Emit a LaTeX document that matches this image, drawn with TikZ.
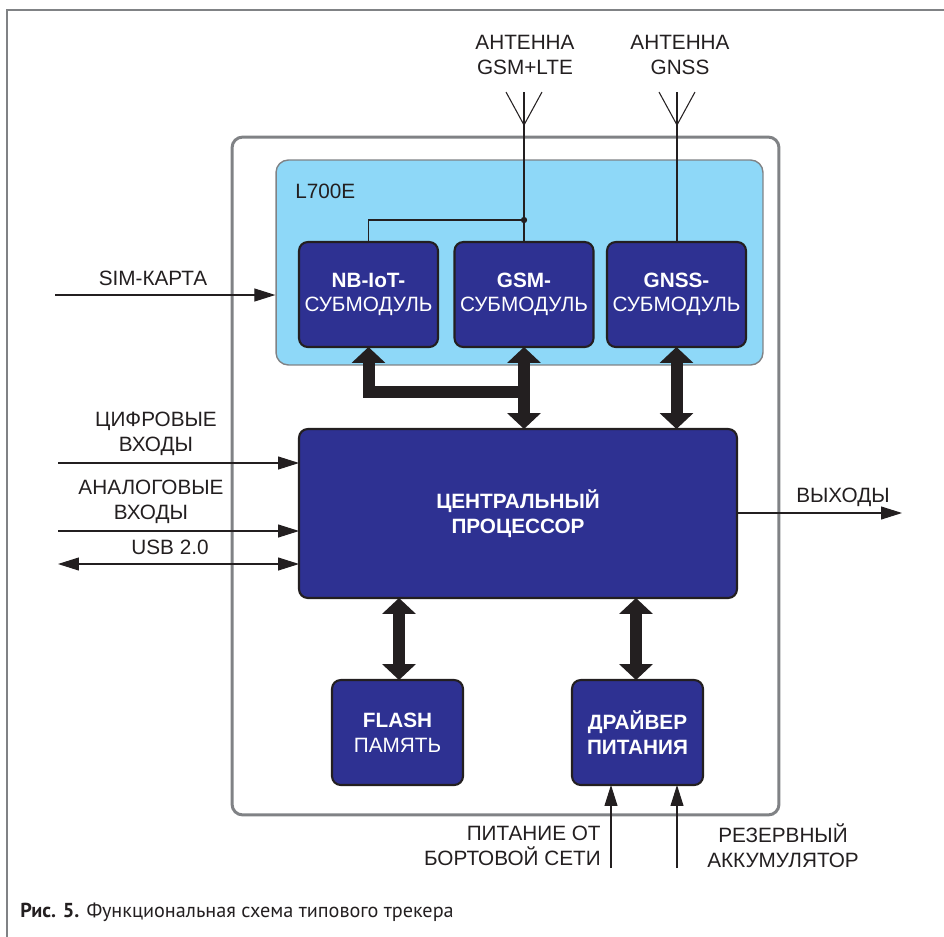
\documentclass[tikz,border=0pt]{standalone}
\usepackage{fontspec}
\setmainfont{Liberation Sans}
\newfontfamily\capfont{PT Sans}
\usetikzlibrary{arrows.meta, positioning}
\definecolor{darkblue}{HTML}{2E3192}
\definecolor{lightblue}{HTML}{8ED8F8}
\definecolor{framegray}{HTML}{808285}
\definecolor{ink}{HTML}{231F20}

\begin{document}
\begin{tikzpicture}[x=0.02cm, y=-0.02cm,
    font=\fontsize{11.8}{14}\selectfont,
    block/.style={draw=ink, line width=1.2pt, fill=darkblue, rounded corners=5pt,
      text=white, align=center, inner sep=0pt, outer sep=0pt},
    txt/.style={align=center, text=ink, inner sep=0pt},
    wire/.style={draw=ink, line width=0.6pt},
    sig/.style={wire, -{Triangle[length=0.42cm, width=0.26cm]}},
    bisig/.style={wire, {Triangle[length=0.42cm, width=0.26cm]}-{Triangle[length=0.42cm, width=0.26cm]}},
    bus/.style={draw=ink, line width=0.24cm, line join=miter,
      {Triangle[length=0.32cm, width=0.66cm]}-{Triangle[length=0.32cm, width=0.66cm]}},
    busstart/.style={draw=ink, line width=0.24cm, line join=miter,
      {Triangle[length=0.32cm, width=0.66cm]}-}]
    \useasboundingbox (0,0) rectangle (944,937);
    \draw [framegray, line width=1.2pt] (944,10) -- (7,10) -- (7,937);

    % board and module
    \node (board) [draw=framegray, line width=1.7pt, rounded corners=6pt, inner sep=0pt,
      minimum width=10.94cm, minimum height=13.56cm] at (505.5,476) {};
    \node (l700e) [draw=framegray, line width=0.8pt, fill=lightblue, rounded corners=7pt, inner sep=0pt,
      minimum width=9.74cm, minimum height=4.1cm] at (519.5,262.5) {};
    \node (l700elbl) [txt, anchor=west] at (295,191) {L700E};

    \node (nb) [block, minimum width=2.78cm, minimum height=2.1cm] at (368.5,294.5)
      {\textbf{NB-IoT-}\\СУБМОДУЛЬ};
    \node (gsm) [block, minimum width=2.78cm, minimum height=2.1cm] at (524,294.5)
      {\textbf{GSM-}\\СУБМОДУЛЬ};
    \node (gnss) [block, minimum width=2.78cm, minimum height=2.1cm] at (676.5,294.5)
      {\textbf{GNSS-}\\СУБМОДУЛЬ};
    \node (cpu) [block, minimum width=8.76cm, minimum height=3.38cm] at (518,513.5)
      {\textbf{ЦЕНТРАЛЬНЫЙ}\\\textbf{ПРОЦЕССОР}};
    \node (flash) [block, minimum width=2.62cm, minimum height=2.1cm] at (397.5,732.5)
      {\textbf{FLASH}\\ПАМЯТЬ};
    \node (drv) [block, minimum width=2.62cm, minimum height=2.1cm] at (637.5,732.5)
      {\textbf{ДРАЙВЕР}\\\textbf{ПИТАНИЯ}};

    % antennas
    \coordinate (gsmtip) at (524,125);
    \coordinate (gnsstip) at (677,125);
    \coordinate (split) at (524,220);
    \draw [wire] (gsmtip) ++(-18,-33) -- (gsmtip) -- ++(18,-33);
    \draw [wire] (gsmtip) ++(0,-33) -- (gsm.north);
    \draw [wire] (gnsstip) ++(-18,-33) -- (gnsstip) -- ++(18,-33);
    \draw [wire] (gnsstip) ++(0,-33) -- (gnsstip |- gnss.north);
    \draw [wire] (split) -| (nb.north);
    \fill [ink] (split) circle (1.8pt);
    \node (ant1lbl) [txt] at (525,55) {АНТЕННА\\GSM+LTE};
    \node (ant2lbl) [txt] at (680,55) {АНТЕННА\\GNSS};

    % buses
    \coordinate (busy) at (0,392);
    \draw [bus] (gsm.south) -- (gsm.south |- cpu.north);
    \draw [busstart] (nb.south) -- (nb.south |- busy) -- (gsm.south |- busy);
    \draw [bus] (gnss.south) -- (gnss.south |- cpu.north);
    \draw [bus] (cpu.south -| 399,0) -- (flash.north -| 399,0);
    \draw [bus] (cpu.south -| 636,0) -- (drv.north -| 636,0);

    % signals
    \coordinate (simin) at (55,295);
    \coordinate (digin) at (58,463);
    \coordinate (anain) at (58,531);
    \coordinate (usbin) at (58,564);
    \coordinate (outend) at (902,513);
    \coordinate (pwrin) at (611,868);
    \coordinate (batin) at (677,868);
    \draw [sig] (simin) -- (simin -| l700e.west);
    \draw [sig] (digin) -- (digin -| cpu.west);
    \draw [sig] (anain) -- (anain -| cpu.west);
    \draw [bisig] (usbin) -- (usbin -| cpu.west);
    \draw [sig] (cpu.east |- outend) -- (outend);
    \draw [sig] (pwrin) -- (pwrin |- drv.south);
    \draw [sig] (batin) -- (batin |- drv.south);

    \node (simlbl) [txt] at (153,278) {SIM-КАРТА};
    \node (diglbl) [txt] at (156,434) {ЦИФРОВЫЕ\\ВХОДЫ};
    \node (analbl) [txt] at (151,502) {АНАЛОГОВЫЕ\\ВХОДЫ};
    \node (usblbl) [txt] at (170,547) {USB 2.0};
    \node (outlbl) [txt] at (843,497) {ВЫХОДЫ};
    \node (pwrlbl) [txt, align=right, anchor=east] at (601,846) {ПИТАНИЕ ОТ\\БОРТОВОЙ СЕТИ};
    \node (batlbl) [txt] at (783,846) {РЕЗЕРВНЫЙ\\АККУМУЛЯТОР};

    \node (caption) [anchor=base west, text=ink, inner sep=0pt,
      font=\capfont\fontsize{11.5}{14}\selectfont] at (20,917)
      {\textbf{Рис. 5.} Функциональная схема типового трекера};
\end{tikzpicture}
\end{document}
